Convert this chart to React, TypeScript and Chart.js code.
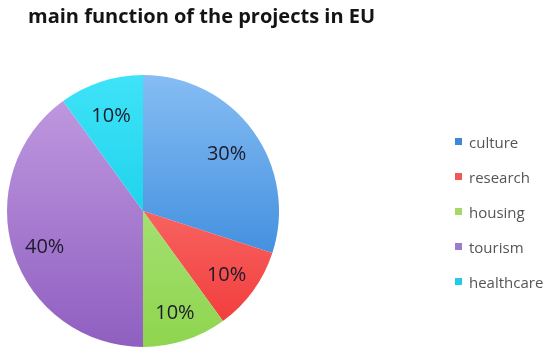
import React, { useEffect, useRef } from "react";
import { Chart, registerables } from "chart.js";

Chart.register(...registerables);

const titleText = "main function of the projects in EU";
const categories = ["culture", "research", "housing", "tourism", "healthcare"];
const shares = [30, 10, 10, 40, 10];
const valueLabels = ["30%", "10%", "10%", "40%", "10%"];
const topColors = ["#86bdf3", "#ff8f8a", "#b8ea94", "#c39de2", "#3fe3f8"];
const bottomColors = ["#2179d6", "#f03636", "#8fd54e", "#8f5fc0", "#00c4e0"];
const legendColors = ["#3f86d4", "#f25656", "#a6d868", "#9d7acb", "#1fcbe8"];

const FONT = "'Open Sans', Lato, sans-serif";

const overlayPlugin = {
  id: "overlay",
  afterDraw(chart: any) {
    const ctx = chart.ctx;
    ctx.save();
    // title
    ctx.font = `bold 20px ${FONT}`;
    ctx.fillStyle = "#141414";
    ctx.textAlign = "left";
    ctx.textBaseline = "alphabetic";
    ctx.fillText(titleText, 28, 23);

    // slice labels
    const meta = chart.getDatasetMeta(0);
    ctx.font = `20px ${FONT}`;
    ctx.fillStyle = "#1b1b2b";
    ctx.textAlign = "center";
    ctx.textBaseline = "middle";
    meta.data.forEach((arc: any, i: number) => {
      const p = arc.getProps(["x", "y", "startAngle", "endAngle", "outerRadius"], true);
      const mid = (p.startAngle + p.endAngle) / 2;
      const r = p.outerRadius * 0.76;
      ctx.fillText(valueLabels[i], p.x + Math.cos(mid) * r, p.y + Math.sin(mid) * r + 4);
    });

    // legend
    const cy = (chart.chartArea.top + chart.chartArea.bottom) / 2 + 2;
    ctx.font = `15px ${FONT}`;
    ctx.textAlign = "left";
    ctx.textBaseline = "middle";
    categories.forEach((c, i) => {
      const y = cy + (i - 2) * 35;
      ctx.fillStyle = legendColors[i];
      ctx.fillRect(455, y - 5, 7, 7);
      ctx.fillStyle = "#555555";
      ctx.fillText(c, 469, y + 1);
    });
    ctx.restore();
  },
};

export default function App() {
  const ref = useRef<HTMLCanvasElement>(null);
  useEffect(() => {
    const canvas = ref.current!;
    const bg = (context: any) => {
      const i = context.dataIndex ?? 0;
      const chart = context.chart;
      const area = chart.chartArea;
      if (!area) return bottomColors[i];
      const g = chart.ctx.createLinearGradient(0, area.top, 0, area.bottom);
      g.addColorStop(0, topColors[i]);
      g.addColorStop(1, bottomColors[i]);
      return g;
    };
    const chart = new Chart(canvas, {
      type: "pie",
      data: {
        labels: categories,
        datasets: [
          {
            data: shares,
            backgroundColor: bg as any,
            borderWidth: 0,
          },
        ],
      },
      options: {
        responsive: false,
        animation: false,
        layout: { padding: { top: 75, left: 7, right: 271, bottom: 12 } },
        plugins: {
          legend: { display: false },
          tooltip: { enabled: false },
          title: { display: false },
        },
      },
      plugins: [overlayPlugin],
    });
    return () => chart.destroy();
  }, []);
  return (
    <div style={{ position: "fixed", left: 0, top: 0, width: 550, height: 359, background: "#ffffff" }}>
      <canvas ref={ref} width={550} height={359} style={{ display: "block" }} />
    </div>
  );
}
